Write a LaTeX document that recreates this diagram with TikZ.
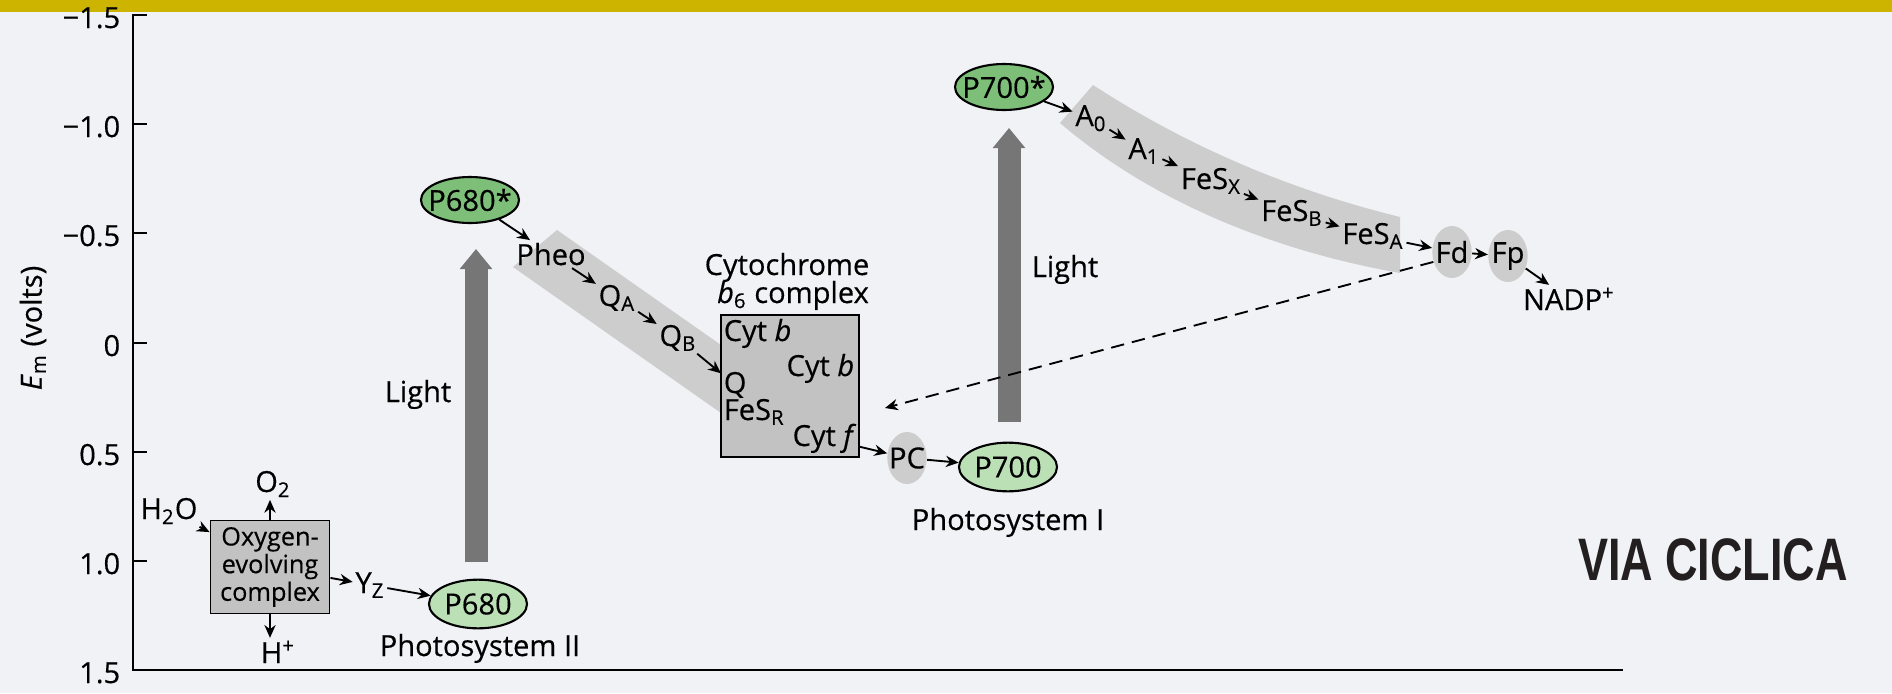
\documentclass[tikz,border=0pt]{standalone}
\usepackage{fontspec}
\usepackage{graphicx}
\setmainfont{Open Sans}[FakeBold=0.4]
\newfontfamily\viafont{Liberation Sans}
\usetikzlibrary{arrows.meta,shapes.geometric,positioning}
\definecolor{pagebg}{RGB}{241,242,245}
\definecolor{topbar}{RGB}{204,180,0}
\definecolor{bandgray}{RGB}{205,205,205}
\definecolor{boxgray}{RGB}{194,194,194}
\definecolor{beamgray}{RGB}{118,118,118}
\definecolor{pstargreen}{RGB}{125,190,120}
\definecolor{pgreen}{RGB}{188,224,182}
\definecolor{viatext}{RGB}{35,31,32}

\begin{document}
\begin{tikzpicture}[x=0.015cm, y=-0.015cm,
    font=\fontsize{12.4}{14}\selectfont,
    >={Stealth[length=5.5pt,width=4.8pt]},
    lbl/.style={inner sep=1pt, anchor=base},
    pstar/.style={ellipse, draw, line width=0.9pt, fill=pstargreen, minimum width=1.47cm, minimum height=0.69cm, inner sep=0pt},
    pground/.style={pstar, fill=pgreen, minimum height=0.73cm},
    carrier/.style={ellipse, fill=bandgray, minimum width=0.59cm, minimum height=0.78cm, inner sep=0pt},
    cbox/.style={draw, line width=0.8pt, fill=boxgray, inner sep=0pt},
    beam/.style={line width=0.345cm, beamgray, -{Triangle[width=0.47cm,length=0.3cm]}}]
  \fill[pagebg] (0,0) rectangle (1892,693);
  \fill[topbar] (0,0) rectangle (1892,12);
  \useasboundingbox (0,0) rectangle (1892,693);

  \draw[line width=0.9pt] (147,15) -- (133,15) -- (133,670) -- (1623,670);
  \foreach \y/\val in {15/−1.5,124/−1.0,233/−0.5,343/0,452/0.5,561/1.0,670/1.5}{
    \draw[line width=0.9pt] (133,\y) -- (147,\y);
    \node[lbl, anchor=base east] (t\y) at (123,\y+13) {\val};
  }
  \node[rotate=90] (emlbl) at (33,328) {\textit{E}\textsubscript{m} (volts)};

  \fill[bandgray] (513,267) -- (557,230) -- (721,345) -- (721,413) -- cycle;
  \fill[bandgray] (1060,123) -- (1093,85) .. controls (1170,135) and (1270,185) .. (1400,217)
    -- (1400,273) .. controls (1270,250) and (1150,200) .. (1060,123) -- cycle;

  \coordinate (beamIIfoot) at (476,562);
  \coordinate (beamIItip) at (476,249);
  \coordinate (beamIfoot) at (1009,422);
  \coordinate (beamItip) at (1009,128);
  \draw[beam] (beamIIfoot) -- (beamIItip);
  \draw[beam] (beamIfoot) -- (beamItip);
  \node[lbl] (lightII) at (418,402) {Light};
  \node[lbl] (lightI) at (1065,277) {Light};

  \node[cbox, minimum width=1.785cm, minimum height=1.395cm, align=center,
    font=\fontsize{10.8}{10.7}\selectfont] (oec) at (270,567) {Oxygen-\\evolving\\complex};
  \node[lbl] (h2o) at (169,519) {H\textsubscript{2}O};
  \node[lbl] (otwo) at (273,492) {O\textsubscript{2}};
  \node[lbl] (hplus) at (278,663) {H\textsuperscript{+}};
  \node[lbl] (yz) at (370,593) {Y\textsubscript{Z}};
  \node[pground] (p680) at (478,604) {\makebox[0pt]{P680}};
  \node[lbl] (psII) at (480,656) {Photosystem II};

  \node[pstar] (p680s) at (470,200) {\makebox[0pt]{P680*}};
  \node[lbl] (pheo) at (551,265) {Pheo};
  \node[lbl] (qa) at (617,306) {Q\textsubscript{A}};
  \node[lbl] (qb) at (678,346) {Q\textsubscript{B}};

  \node[lbl] (cytlbl) at (787,275) {Cytochrome};
  \node[lbl] (cytlbl2) at (793,303) {\textit{b}\textsubscript{6} complex};
  \node[cbox, minimum width=2.07cm, minimum height=2.13cm] (cytbox) at (790,386) {};
  \node[lbl, anchor=base west] (cytb1) at (721,341) {Cyt \textit{b}};
  \node[lbl, anchor=base east] (cytb2) at (857,376) {Cyt \textit{b}};
  \node[lbl, anchor=base west] (qpool) at (721,393) {Q};
  \node[lbl, anchor=base west] (fesr) at (721,420) {FeS\textsubscript{R}};
  \node[lbl, anchor=base east] (cytf) at (859,446) {Cyt \textit{f}};

  \node[carrier] (pc) at (907,458) {\makebox[0pt]{PC}};
  \node[pground] (p700) at (1008,467) {\makebox[0pt]{P700}};
  \node[lbl] (psI) at (1008,530) {Photosystem I};

  \node[pstar] (p700s) at (1004,87) {\makebox[0pt]{P700*}};
  \node[lbl] (ao) at (1091,126) {A\textsubscript{0}};
  \node[lbl] (aone) at (1144,159) {A\textsubscript{1}};
  \node[lbl] (fesx) at (1211,189) {FeS\textsubscript{X}};
  \node[lbl] (fesb) at (1292,221) {FeS\textsubscript{B}};
  \node[lbl] (fesa) at (1373,244) {FeS\textsubscript{A}};
  \node[carrier] (fd) at (1452,252) {\makebox[0pt]{Fd}};
  \node[carrier] (fp) at (1508,256) {\makebox[0pt]{Fp}};
  \node[lbl] (nadp) at (1569,310) {NADP\textsuperscript{+}};

  \coordinate (cyc) at (885,408);
  \draw[->, line width=0.8pt, dash pattern=on 0.2cm off 0.12cm] (fd.208) -- (cyc);

  \path[->, line width=0.8pt]
    (h2o) edge (oec.150)
    (oec.north) edge (oec.north |- otwo.south)
    (oec.south) edge (oec.south |- hplus.north)
    (oec) edge (yz)
    (yz) edge (p680)
    (p680s) edge (pheo)
    (pheo) edge (qa)
    (qa) edge (qb)
    (qb) edge (qpool)
    (cytf) edge (pc)
    (pc) edge (p700)
    (p700s) edge (ao)
    (ao) edge (aone)
    (aone) edge (fesx)
    (fesx) edge (fesb)
    (fesb) edge (fesa)
    (fesa) edge (fd)
    (fd) edge (fp)
    (fp) edge (nadp);

  \node[lbl, text=viatext, font=\viafont\bfseries\fontsize{25.6}{28}\selectfont] (via) at (1713,580) {\scalebox{0.75}[1]{VIA CICLICA}};
\end{tikzpicture}
\end{document}
